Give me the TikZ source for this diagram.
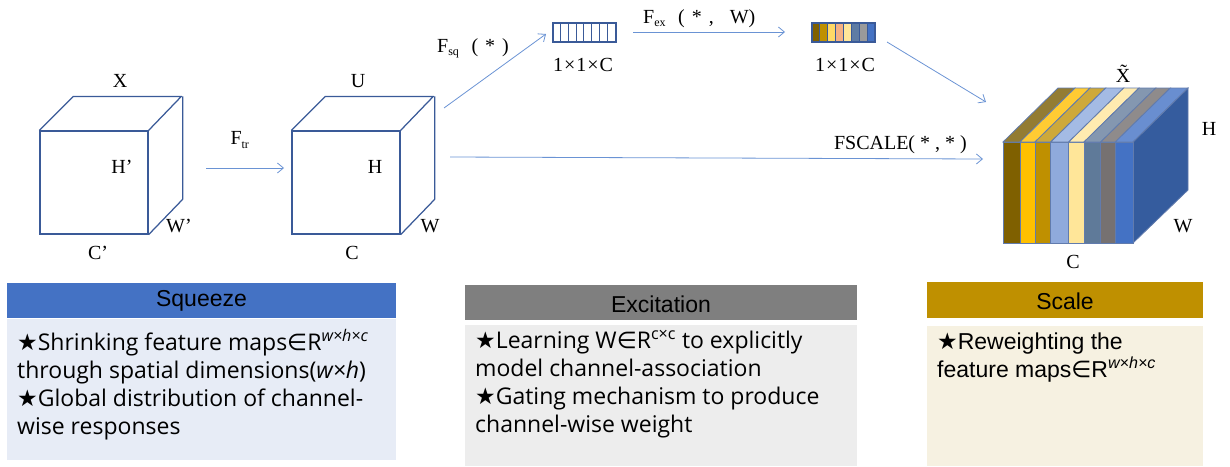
\documentclass[tikz,border=0pt]{standalone}
\usepackage{fontspec}
\setmainfont{Liberation Serif}
\newfontfamily\bodyfont{Open Sans}
\newfontfamily\headfont{Liberation Sans}
\newfontfamily\symfont{DejaVu Sans}
\usetikzlibrary{arrows.meta,calc}
\definecolor{cubeblue}{HTML}{3A5A98}
\definecolor{arrowblue}{HTML}{6A93D4}
\definecolor{sqhead}{HTML}{4472C4}
\definecolor{sqbody}{HTML}{E7ECF6}
\definecolor{exhead}{HTML}{7F7F7F}
\definecolor{exbody}{HTML}{EDEDED}
\definecolor{schead}{HTML}{BF9000}
\definecolor{scbody}{HTML}{F6F1E1}
\definecolor{cA}{HTML}{7F6000}
\definecolor{cB}{HTML}{FFC000}
\definecolor{cC}{HTML}{BF9000}
\definecolor{cD}{HTML}{8FAADC}
\definecolor{cE}{HTML}{FFE699}
\definecolor{cF}{HTML}{5F7A99}
\definecolor{cG}{HTML}{767171}
\definecolor{cH}{HTML}{4472C4}
\definecolor{tA}{HTML}{937C33}
\definecolor{tB}{HTML}{FFCB33}
\definecolor{tC}{HTML}{CEA93A}
\definecolor{tD}{HTML}{A4BBE4}
\definecolor{tE}{HTML}{FFEBB0}
\definecolor{tF}{HTML}{8497B0}
\definecolor{tG}{HTML}{8F8B8B}
\definecolor{tH}{HTML}{698ED0}
\definecolor{sideface}{HTML}{355C9E}
\definecolor{vA}{HTML}{7F6000}
\definecolor{vB}{HTML}{BF9000}
\definecolor{vC}{HTML}{FFD966}
\definecolor{vD}{HTML}{F4B183}
\definecolor{vE}{HTML}{FFE699}
\definecolor{vF}{HTML}{5E7CA4}
\definecolor{vG}{HTML}{9A9A9A}
\definecolor{vH}{HTML}{4472C4}
\tikzset{
  cubeline/.style={draw=cubeblue, line width=1.25pt},
  conn/.style={draw=arrowblue, line width=0.8pt, -{Straight Barb[length=6pt,width=10pt]}},
  lbl/.style={inner sep=0pt, font=\fontsize{20}{24}\selectfont},
  slbl/.style={inner sep=0pt, font=\fontsize{20}{24}\selectfont},
  head/.style={inner sep=0pt, font=\headfont\fontsize{23}{27}\selectfont},
  bodytext/.style={inner sep=0pt, align=left, anchor=north west, font=\bodyfont\fontsize{23}{28}\selectfont},
  stripe/.style={draw=cubeblue!80, line width=0.8pt},
}
\newcommand{\st}{{\symfont ★}}
\newcommand{\inn}{{\symfont ∈}}
\begin{document}
\begin{tikzpicture}[x=1pt,y=-1pt]
\useasboundingbox (0,0) rectangle (1230,466);
% ---------- cube X ----------
\node[cubeline, minimum width=108pt, minimum height=103pt, inner sep=0pt] (xf) at (94,182.5) {};
\draw[cubeline, line join=round] (xf.north west) -- ++(34,-34) -- ++(108,0) -- (xf.north east);
\draw[cubeline, line join=round] (xf.north east) ++(34,-34) -- ++(0,103) -- (xf.south east);
\node[lbl] (xlab) at (120,81) {X};
\node[lbl] (xh) at (122,167) {H’};
\node[lbl] (xw) at (179,226) {W’};
\node[lbl] (xc) at (98,253) {C’};
% ---------- cube U ----------
\node[cubeline, minimum width=108pt, minimum height=103pt, inner sep=0pt] (uf) at (346,182.5) {};
\draw[cubeline, line join=round] (uf.north west) -- ++(34,-34) -- ++(108,0) -- (uf.north east);
\draw[cubeline, line join=round] (uf.north east) ++(34,-34) -- ++(0,103) -- (uf.south east);
\node[lbl] (ulab) at (358,81) {U};
\node[lbl] (uh) at (375,167) {H};
\node[lbl] (uw) at (430,226) {W};
\node[lbl] (uc) at (352,253) {C};
% ---------- F_tr ----------
\coordinate (trs) at (206,168);
\coordinate (tre) at (284,168);
\draw[conn] (trs) -- (tre);
\node[lbl] (ftr) at (240,140) {F\textsubscript{\fontsize{12}{14}\selectfont tr}};
% ---------- squeeze vector ----------
\node[draw=cubeblue, line width=1.2pt, minimum width=63pt, minimum height=19pt, inner sep=0pt] (sqv) at (584.5,32.5) {};
\foreach \i in {1,...,7} \draw[cubeblue, line width=1pt] ($(sqv.north west)+(\i*7.875,0)$) -- ++(0,19);
\node[slbl] (sqdim) at (583,65) {1\hspace{1pt}×\hspace{1pt}1\hspace{1pt}×\hspace{1pt}C};
\coordinate (sqs) at (444,108);
\coordinate (sqe) at (546,34);
\draw[conn] (sqs) -- (sqe);
\node[slbl, anchor=west] (fsq) at (437,48) {F\textsubscript{\fontsize{12}{14}\selectfont sq}\hspace{0.6em}(\hspace{0.35em}*\hspace{0.35em})};
% ---------- excitation vector ----------
\coordinate (exvnw) at (812,23);
\foreach \c [count=\i from 0] in {vA,vB,vC,vD,vE,vF,vG,vH}
  \fill[\c] ($(exvnw)+(\i*7.875,0)$) rectangle ++(7.875,19);
\foreach \i in {1,...,7} \draw[cubeblue, line width=0.8pt] ($(exvnw)+(\i*7.875,0)$) -- ++(0,19);
\node[draw=cubeblue, line width=1.2pt, minimum width=63pt, minimum height=19pt, inner sep=0pt] (exv) at (843.5,32.5) {};
\node[slbl] (exdim) at (845,65) {1\hspace{1pt}×\hspace{1pt}1\hspace{1pt}×\hspace{1pt}C};
\coordinate (exs) at (633,32);
\coordinate (exe) at (785,32);
\draw[conn] (exs) -- (exe);
\node[slbl, anchor=west] (fex) at (643,19) {F\textsubscript{\fontsize{12}{14}\selectfont ex}\hspace{0.6em}(\hspace{0.35em}*\hspace{0.35em},\hspace{0.8em}W)};
% ---------- scaled cube ----------
\fill[sideface] (1133,142) -- (1188,88) -- (1188,190) -- (1133,243) -- cycle;
\foreach \a/\b/\cf/\ct in {1003/1020/cA/tA, 1020/1035/cB/tB, 1035/1050.7/cC/tC, 1050.7/1068.7/cD/tD, 1068.7/1084/cE/tE, 1084/1100.7/cF/tF, 1100.7/1115.3/cG/tG, 1115.3/1133/cH/tH}{
  \filldraw[fill=\cf, stripe] (\a,142) rectangle (\b,243);
  \filldraw[fill=\ct, stripe] (\a,142) -- (\a+55,88) -- (\b+55,88) -- (\b,142) -- cycle;
}
\draw[stripe] (1133,142) -- (1188,88) -- (1188,190) -- (1133,243);
\node[lbl] (xtl) at (1123,74) {\~{X}};
\node[lbl] (xth) at (1209,129) {H};
\node[lbl] (xtw) at (1183,226) {W};
\node[lbl] (xtc) at (1073,262) {C};
\coordinate (scs) at (887,42);
\coordinate (sce) at (986,102);
\draw[conn] (scs) -- (sce);
\coordinate (fss) at (450,157);
\coordinate (fse) at (983,159);
\draw[conn] (fss) -- (fse);
\node[slbl, anchor=east] (fscale) at (967,145) {FSCALE(\hspace{0.25em}*\hspace{0.25em},\hspace{0.25em}*\hspace{0.25em})};
% ---------- bottom boxes ----------
\fill[sqhead] (7,283) rectangle (396,318);
\fill[sqbody] (7,319) rectangle (396,460);
\node[head] (sqh) at (201.5,301) {Squeeze};
\node[bodytext] (sqb) at (17,329) {\st Shrinking feature maps\inn R\textsuperscript{\itshape w×h×c}\\through spatial dimensions(\textit{w×h})\\\st Global distribution of channel-\\wise responses};
\fill[exhead] (465,285) rectangle (857,320);
\fill[exbody] (465,325) rectangle (857,466);
\node[head] (exh) at (661,304) {Excitation};
\node[bodytext] (exb) at (475,330) {\st Learning W\inn R\textsuperscript{c×c} to explicitly\\model channel-association\\\st Gating mechanism to produce\\channel-wise weight};
\fill[schead] (927,282) rectangle (1203,318);
\fill[scbody] (927,326) rectangle (1203,466);
\node[head] (sch) at (1065,301) {Scale};
\node[bodytext, font=\headfont\fontsize{23}{28}\selectfont] (scb) at (937,333) {\st Reweighting the\\feature maps\inn R\textsuperscript{\itshape w×h×c}};
\end{tikzpicture}
\end{document}
